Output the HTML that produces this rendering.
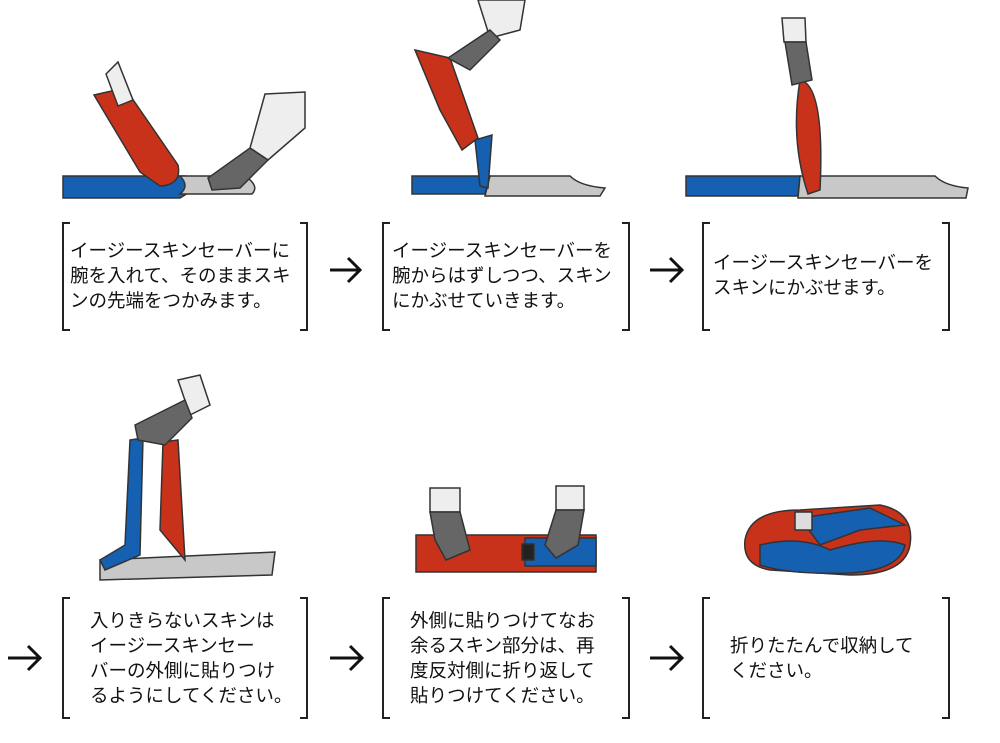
<!DOCTYPE html>
<html><head><meta charset="utf-8"><style>
html,body{margin:0;padding:0;background:#fff;}
body{width:1000px;height:743px;position:relative;overflow:hidden;font-family:"Liberation Sans","Noto Sans CJK JP",sans-serif;}
.t{position:absolute;font-size:18.5px;line-height:25px;color:#111;white-space:nowrap;}
svg{position:absolute;left:0;top:0;}
</style></head><body>
<svg width="1000" height="743" viewBox="0 0 1000 743">
<g fill="none" stroke="#222" stroke-width="2">
<path d="M70 223H63V330H70M300 223H307V330H300"/>
<path d="M390 223H383V330H390M622 223H629V330H622"/>
<path d="M710 223H703V330H710M942 223H949V330H942"/>
<path d="M70 598H63V718H70M300 598H307V718H300"/>
<path d="M390 598H383V718H390M622 598H629V718H622"/>
<path d="M710 598H703V718H710M942 598H949V718H942"/>
</g>
<g fill="none" stroke="#111" stroke-width="3">
<path d="M330 270H360M348 258L360 270L348 282"/>
<path d="M650 270H682M670 258L682 270L670 282"/>
<path d="M8 658H40M28 646L40 658L28 670"/>
<path d="M330 658H362M350 646L362 658L350 670"/>
<path d="M650 658H682M670 646L682 658L670 670"/>
</g>
<g stroke="#333" stroke-width="1.5">
<path d="M63 176H185L193 190L180 198H63Z" fill="#1560b0"/>
<path d="M180 176H245Q260 186 252 194H180Q190 186 180 176Z" fill="#c8c8c8"/>
<path d="M94 95L125 88L178 165Q182 185 160 186L140 172Z" fill="#c8321a"/>
<path d="M106 74L118 62L133 100L118 106Z" fill="#eee"/>
<path d="M265 94L305 92L305 128L268 160L250 148Z" fill="#eee"/>
<path d="M250 148L268 160L240 188L212 190L208 178Z" fill="#666"/>
<path d="M412 176H490L485 194H412Z" fill="#1560b0"/>
<path d="M490 176H570Q580 186 605 188L600 196H485Z" fill="#c8c8c8"/>
<path d="M475 140L492 135L488 188L480 186Z" fill="#1560b0"/>
<path d="M415 50L450 58L478 138L462 150L440 110Z" fill="#c8321a"/>
<path d="M478 0L525 0L520 30L490 38Z" fill="#eee"/>
<path d="M490 30L500 40L470 70L448 58Z" fill="#666"/>
<path d="M686 176H800L798 196H686Z" fill="#1560b0"/>
<path d="M800 176H935Q945 186 968 188L966 198H798Z" fill="#c8c8c8"/>
<path d="M800 80Q825 85 820 190L808 194Q790 140 800 80Z" fill="#c8321a"/>
<path d="M782 18H805L806 42H784Z" fill="#eee"/>
<path d="M785 42H806L812 80L792 85Z" fill="#666"/>
<path d="M100 560L275 552L272 575L100 580Z" fill="#c8c8c8"/>
<path d="M130 440L143 438L140 555L105 570L100 560L125 545Z" fill="#1560b0"/>
<path d="M163 442L178 440L185 560L160 530Z" fill="#c8321a"/>
<path d="M178 380L200 375L210 405L190 415Z" fill="#eee"/>
<path d="M135 425L185 400L192 418L165 445L138 440Z" fill="#666"/>
<path d="M416 535H596V572H416Z" fill="#c8321a"/>
<path d="M525 538H596V566H525Z" fill="#1560b0"/>
<path d="M522 544H534V560H522Z" fill="#222"/>
<path d="M430 488H460V512H430ZM556 486H584V510H556Z" fill="#eee"/>
<path d="M430 512H460L470 550L446 560L435 540ZM556 510H584L578 545L556 558L545 545Z" fill="#666"/>
<path d="M745 540Q750 510 800 510L880 505Q915 512 910 545Q905 575 850 575L770 570Q742 565 745 540Z" fill="#c8321a"/>
<path d="M760 545Q800 535 830 550Q880 535 905 545Q900 570 850 573Q790 575 760 565Z" fill="#1560b0"/>
<path d="M800 518L870 508L905 525L860 530L820 545Z" fill="#1560b0"/>
<path d="M795 512H812V530H795Z" fill="#ddd"/>
</g>
</svg>
<div class="t" style="left:70px;top:238px;">イージースキンセーバーに<br>腕を入れて、そのままスキ<br>ンの先端をつかみます。</div>
<div class="t" style="left:392px;top:238px;">イージースキンセーバーを<br>腕からはずしつつ、スキン<br>にかぶせていきます。</div>
<div class="t" style="left:713px;top:250px;">イージースキンセーバーを<br>スキンにかぶせます。</div>
<div class="t" style="left:90px;top:608px;">入りきらないスキンは<br>イージースキンセー<br>バーの外側に貼りつけ<br>るようにしてください。</div>
<div class="t" style="left:410px;top:608px;">外側に貼りつけてなお<br>余るスキン部分は、再<br>度反対側に折り返して<br>貼りつけてください。</div>
<div class="t" style="left:730px;top:633px;">折りたたんで収納して<br>ください。</div>
</body></html>
